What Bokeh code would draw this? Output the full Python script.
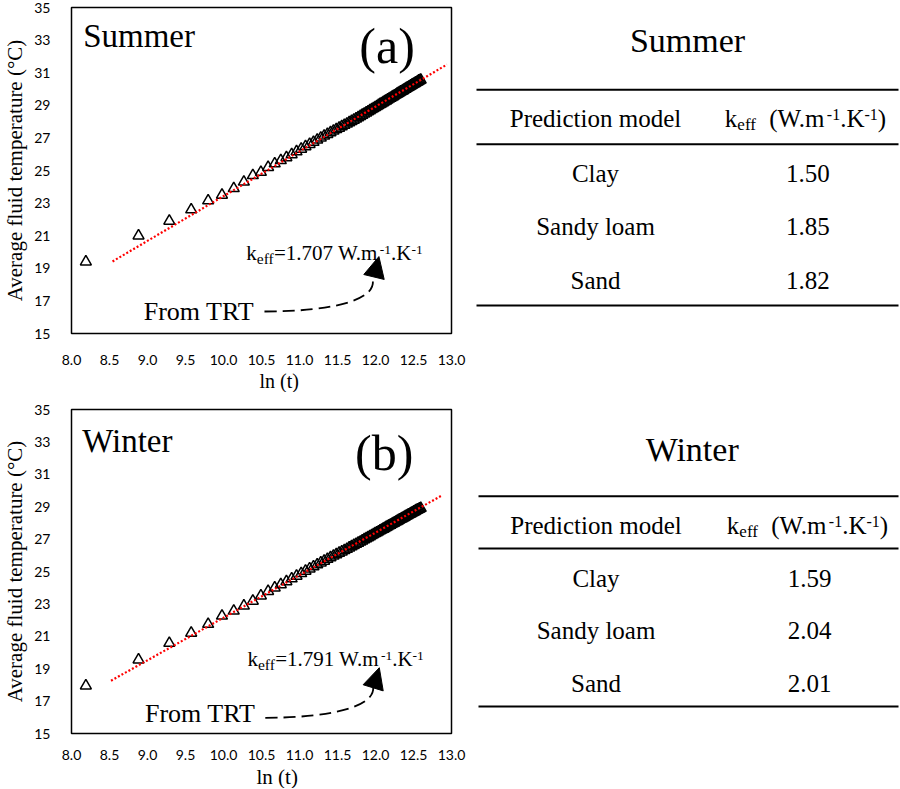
from bokeh.plotting import figure
from bokeh.models import (Range1d, FixedTicker, ColumnDataSource, Arrow, NormalHead,
                          NumeralTickFormatter, Title)
from bokeh.layouts import row, column
from bokeh.core.properties import value, field
from bokeh.embed import file_html
from bokeh.resources import INLINE

# ---------------- data ----------------
ln_t = [8.189, 8.882, 9.287, 9.575, 9.798, 9.980, 10.135, 10.268, 10.386, 10.492,
        10.587, 10.674, 10.754, 10.828, 10.897, 10.961, 11.022, 11.079, 11.133, 11.184,
        11.233, 11.280, 11.324, 11.367, 11.408, 11.447, 11.484, 11.521, 11.556, 11.590,
        11.623, 11.654, 11.685, 11.715, 11.744, 11.772, 11.800, 11.826, 11.852, 11.878,
        11.902, 11.926, 11.950, 11.973, 11.995, 12.017, 12.039, 12.060, 12.080, 12.101,
        12.120, 12.140, 12.159, 12.178, 12.196, 12.214, 12.232, 12.249, 12.266, 12.283,
        12.300, 12.316, 12.332, 12.348, 12.363, 12.378, 12.393, 12.408, 12.423, 12.437,
        12.451, 12.465, 12.479, 12.493, 12.506, 12.520, 12.533, 12.545, 12.558, 12.571,
        12.583, 12.595]

T_summer = [19.40, 21.00, 21.90, 22.60, 23.15, 23.50, 23.90, 24.30, 24.70, 24.90,
            25.20, 25.42, 25.62, 25.80, 25.98, 26.16, 26.32, 26.47, 26.61, 26.74,
            26.88, 27.00, 27.12, 27.22, 27.33, 27.43, 27.52, 27.61, 27.70, 27.78,
            27.86, 27.94, 28.02, 28.10, 28.17, 28.25, 28.33, 28.40, 28.47, 28.54,
            28.61, 28.68, 28.75, 28.81, 28.87, 28.93, 29.00, 29.06, 29.11, 29.17,
            29.23, 29.28, 29.34, 29.39, 29.44, 29.49, 29.54, 29.59, 29.64, 29.69,
            29.74, 29.78, 29.83, 29.87, 29.91, 29.96, 30.00, 30.04, 30.08, 30.12,
            30.16, 30.20, 30.24, 30.28, 30.31, 30.35, 30.39, 30.42, 30.46, 30.50,
            30.53, 30.56]

T_winter = [17.95, 19.55, 20.58, 21.20, 21.75, 22.26, 22.57, 22.88, 23.18, 23.50,
            23.78, 24.00, 24.20, 24.38, 24.56, 24.72, 24.88, 25.03, 25.17, 25.30,
            25.42, 25.54, 25.65, 25.76, 25.86, 25.96, 26.05, 26.14, 26.22, 26.30,
            26.38, 26.46, 26.54, 26.62, 26.69, 26.76, 26.83, 26.90, 26.97, 27.04,
            27.10, 27.16, 27.23, 27.29, 27.35, 27.40, 27.46, 27.52, 27.57, 27.62,
            27.67, 27.73, 27.78, 27.83, 27.87, 27.92, 27.97, 28.01, 28.06, 28.10,
            28.15, 28.19, 28.23, 28.27, 28.31, 28.35, 28.39, 28.43, 28.47, 28.51,
            28.54, 28.58, 28.62, 28.65, 28.69, 28.72, 28.76, 28.79, 28.82, 28.85,
            28.88, 28.91]

trend_x_summer = [8.54, 12.94]
trend_y_summer = [19.42, 31.50]
trend_x_winter = [8.52, 12.88]
trend_y_winter = [18.26, 29.71]

keff_trt_summer = "1.707"
keff_trt_winter = "1.791"

x_ticks = [8.0, 8.5, 9.0, 9.5, 10.0, 10.5, 11.0, 11.5, 12.0, 12.5, 13.0]
y_ticks = [15, 17, 19, 21, 23, 25, 27, 29, 31, 33, 35]

models = ["Clay", "Sandy loam", "Sand"]
k_summer = [1.50, 1.85, 1.82]
k_winter = [1.59, 2.04, 2.01]

SERIF = "Liberation Serif"
SANS = "Lato"
BASE_FIX = 0.36  # empirical shift (em) so that y is the alphabetic baseline

# Times/Liberation Serif advance widths (em)
W = {'k': .5, 'e': .444, 'f': .333, '=': .564, '.': .25, ' ': .25, 'W': .944, 'm': .778,
     '-': .333, 'K': .722, '(': .333, ')': .333}


def tw(s, size):
    return sum(W.get(c, .5) for c in s) * size


def add_rich(p, x, y, segs, anchor="left"):
    # segs: (text, size_px, dy_px (down positive), gap_before_px)
    total = sum(tw(t, sz) + g for t, sz, dy, g in segs)
    off = 0.0 if anchor == "left" else -total / 2.0
    d = dict(x=[], y=[], text=[], xo=[], yo=[], fs=[])
    for t, sz, dy, g in segs:
        off += g
        d["x"].append(x); d["y"].append(y); d["text"].append(t)
        d["xo"].append(off); d["yo"].append(dy - BASE_FIX * sz); d["fs"].append(f"{sz}px")
        off += tw(t, sz)
    p.text(x="x", y="y", text="text", x_offset="xo", y_offset="yo",
           text_font_size=field("fs"), text_font=value(SERIF), text_color="black",
           text_baseline="alphabetic", text_align="left", source=ColumnDataSource(d))


def add_text(p, xs, ys, texts, size, align="left"):
    n = len(texts)
    d = dict(x=list(xs), y=list(ys), text=list(texts), fs=[f"{size}px"] * n,
             yo=[-BASE_FIX * size] * n)
    p.text(x="x", y="y", text="text", y_offset="yo", text_font_size=field("fs"),
           text_font=value(SERIF), text_color="black", text_baseline="alphabetic",
           text_align=align, source=ColumnDataSource(d))


def keff_segs(val):
    return [("k", 21, 0, 0), ("eff", 15.5, 3.5, 0), ("=" + val + " W.m", 21, 0, 0),
            ("-1", 13.5, -6, 0), (".K", 21, 0, 0), ("-1", 13.5, -6, 0)]


def make_panel(temps, tx, ty, height, mb, season, tag, keff, pos, xlabel_size, xl_offset, xt_standoff):
    p = figure(width=467, height=height, x_range=Range1d(8, 13), y_range=Range1d(15, 35),
               output_backend="svg", toolbar_location=None,
               min_border_left=mb[0], min_border_right=mb[1], min_border_top=mb[2],
               min_border_bottom=mb[3])
    p.outline_line_color = "black"
    p.outline_line_width = 1.5
    p.outline_line_alpha = 1
    p.xgrid.grid_line_color = None
    p.ygrid.grid_line_color = None
    p.background_fill_color = "white"
    p.border_fill_color = "white"

    p.xaxis.ticker = FixedTicker(ticks=x_ticks)
    p.xaxis.formatter = NumeralTickFormatter(format="0.0")
    p.yaxis.ticker = FixedTicker(ticks=y_ticks)
    for ax in (p.xaxis[0], p.yaxis[0]):
        ax.axis_line_color = None
        ax.major_tick_line_color = None
        ax.minor_tick_line_color = None
        ax.major_tick_out = 0
        ax.major_tick_in = 0
        ax.minor_tick_out = 0
        ax.minor_tick_in = 0
        ax.major_label_text_font = SANS
        ax.major_label_text_font_size = "14px"
        ax.major_label_text_color = "black"
        ax.axis_label_text_font = SERIF
        ax.axis_label_text_font_style = "normal"
        ax.axis_label_text_color = "black"
    p.yaxis.axis_label = "Average fluid temperature (°C)"
    p.yaxis.axis_label_text_font_size = "21px"
    p.yaxis.major_label_standoff = 21
    p.yaxis.axis_label_standoff = 4
    p.xaxis.major_label_standoff = xt_standoff

    # x-axis title, placed below the tick labels, offset to the right as in the original
    xt = Title(text="ln (t)", align="left", offset=xl_offset, text_font=SERIF,
               text_font_size=xlabel_size, text_font_style="normal", text_color="black")
    if "standoff" in Title.properties():
        xt.standoff = 0
    p.add_layout(xt, "below")

    p.scatter(x=ln_t, y=temps, marker="triangle", size=11, fill_color=None,
              line_color="black", line_width=1.5)
    p.line(x=tx, y=ty, line_color="#FF0000", line_width=2.2, line_dash="2 2")

    add_text(p, [pos["season"][0]], [pos["season"][1]], [season], 33)
    add_text(p, [pos["tag"][0]], [pos["tag"][1]], [tag], 50)
    add_text(p, [pos["trt"][0]], [pos["trt"][1]], ["From TRT"], 26)
    add_rich(p, pos["keff"][0], pos["keff"][1], keff_segs(keff))

    b = pos["curve"]
    p.bezier(x0=[b[0]], y0=[b[1]], cx0=[b[2]], cy0=[b[3]], cx1=[b[4]], cy1=[b[5]],
             x1=[b[6]], y1=[b[7]], line_color="black", line_width=1.8, line_dash="12 6")
    tip = pos["tip"]
    p.add_layout(Arrow(end=NormalHead(size=21, fill_color="black", line_color="black"),
                       x_start=b[6], y_start=b[7], x_end=tip[0], y_end=tip[1],
                       line_alpha=0))
    return p


pos_a = dict(season=(8.153, 32.5), tag=(11.787, 31.55), trt=(8.95, 15.8), keff=(10.30, 19.48),
             curve=(10.539, 16.35, 11.416, 16.35, 11.979, 17.02, 11.966, 18.19),
             tip=(12.045, 19.72))
pos_b = dict(season=(8.14, 32.34), tag=(11.73, 31.18), trt=(8.966, 15.68), keff=(10.315, 19.14),
             curve=(10.55, 15.97, 11.42, 15.97, 11.985, 16.66, 11.97, 17.83),
             tip=(12.05, 19.06))

fa = make_panel(T_summer, trend_x_summer, trend_y_summer, 392, (69, 16, 7, 59),
                "Summer", "(a)", keff_trt_summer, pos_a, "20px", 188, 21)
fb = make_panel(T_winter, trend_x_winter, trend_y_winter, 396, (68, 16, 17, 54),
                "Winter", "(b)", keff_trt_winter, pos_b, "21px", 185, 16)


def make_table(height, title, vals, lay):
    t = figure(width=432, height=height, x_range=Range1d(0, 432), y_range=Range1d(height, 0),
               output_backend="svg", toolbar_location=None, x_axis_type=None, y_axis_type=None,
               min_border=0, min_border_left=0, min_border_right=0, min_border_top=0,
               min_border_bottom=0)
    t.outline_line_color = None
    t.grid.grid_line_color = None
    t.background_fill_color = "white"
    t.border_fill_color = "white"
    x0, x1 = lay["xl"]
    ys = lay["lines"]
    t.segment(x0=[x0] * 3, y0=ys, x1=[x1] * 3, y1=ys, line_color="black", line_width=2)
    add_text(t, [lay["title"][0]], [lay["title"][1]], [title], 34, "center")
    add_text(t, [lay["c1"]], [lay["head"]], ["Prediction model"], 25, "center")
    add_rich(t, lay["ch"], lay["head"],
             [("k", 25, 0, 0), ("eff", 17, 3.5, 0), ("(W.m", 25, 0, 13), ("-1", 16, -7, 0),
              (".K", 25, 0, 0), ("-1", 16, -7, 0), (")", 25, 0, 0)], anchor="center")
    rys = [lay["row0"] + i * lay["pitch"] for i in range(len(models))]
    add_text(t, [lay["c1"]] * len(models), rys, models, 25, "center")
    add_text(t, [lay["c2"]] * len(vals), rys, [f"{v:.2f}" for v in vals], 25, "center")
    return t


lay_a = dict(xl=(9, 431), lines=[89.3, 143.7, 305], title=(220, 52.7), head=126.7,
             c1=128, c2=340.3, ch=338, row0=181.7, pitch=53.7)
lay_b = dict(xl=(11, 431), lines=[102.7, 155, 313], title=(224.7, 68.7), head=141,
             c1=128.5, c2=342, ch=340, row0=193.7, pitch=52.7)

ta = make_table(393, "Summer", k_summer, lay_a)
tb = make_table(395, "Winter", k_winter, lay_b)

layout = row(column(fa, fb), column(ta, tb))
open("out.html", "w").write(file_html(layout, INLINE))
